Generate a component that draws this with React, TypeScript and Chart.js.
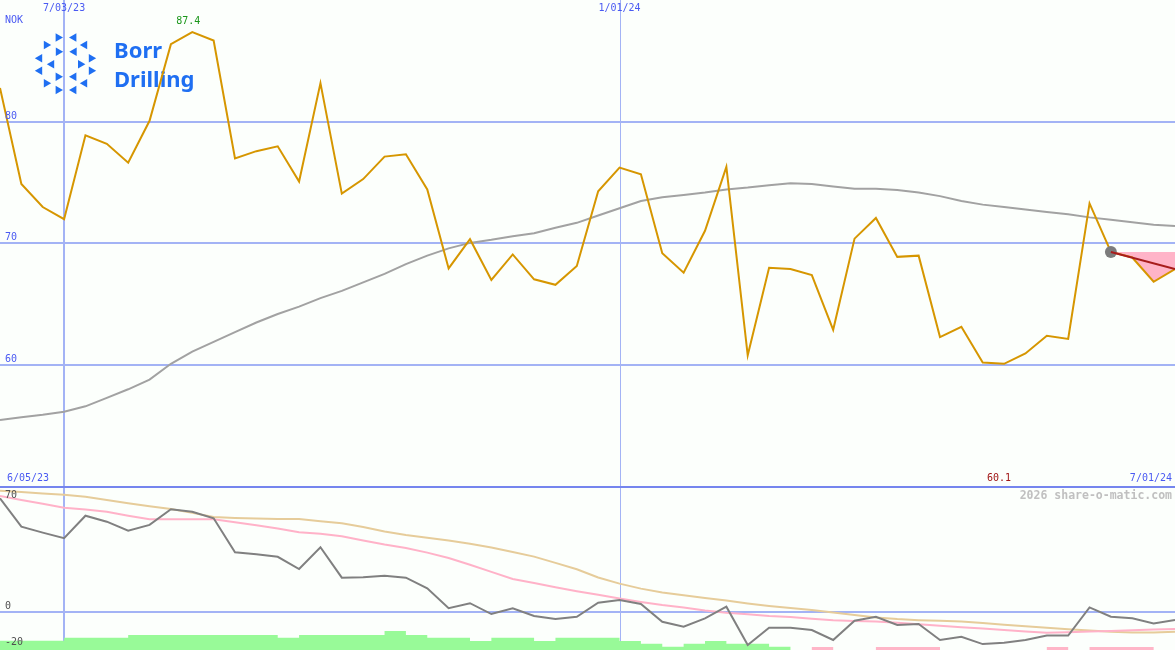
import React, { useEffect, useRef } from 'react';
import { Chart, registerables } from 'chart.js';

Chart.register(...registerables);

// ---------- data (weekly, index 0 = first week shown) ----------
const currency = 'NOK';
const firstDateLabel = '6/05/23';
const lastDateLabel = '7/01/24';
const dateMarks = [
  { index: 3, label: '7/03/23' },
  { index: 29, label: '1/01/24' },
];
const upperTicks = [80, 70, 60];
const lowerTicks = [70, 0, -20];

const price = [
  82.8, 74.9, 73.0, 72.0, 78.9, 78.2, 76.65, 80.1, 86.4, 87.4,
  86.7, 77.0, 77.6, 78.0, 75.1, 83.2, 74.1, 75.3, 77.15, 77.35,
  74.45, 67.95, 70.35, 67.0, 69.1, 67.05, 66.6, 68.15, 74.3, 76.25,
  75.7, 69.2, 67.6, 71.05, 76.3, 60.8, 68.0, 67.9, 67.4, 62.9,
  70.4, 72.1, 68.9, 69.0, 62.3, 63.15, 60.2, 60.1, 60.95, 62.4,
  62.15, 73.3, 69.3, 68.85, 66.85, 67.9,
];

const priceAverage = [
  55.47, 55.7, 55.9, 56.15, 56.6, 57.3, 58.0, 58.8, 60.1, 61.1,
  61.9, 62.7, 63.5, 64.2, 64.8, 65.5, 66.1, 66.8, 67.5, 68.3,
  69.0, 69.6, 70.05, 70.3, 70.6, 70.85, 71.3, 71.7, 72.3, 72.9,
  73.5, 73.8, 74.0, 74.2, 74.45, 74.6, 74.8, 74.95, 74.9, 74.7,
  74.5, 74.5, 74.4, 74.2, 73.9, 73.5, 73.2, 73.0, 72.8, 72.6,
  72.4, 72.15, 71.95, 71.75, 71.55, 71.45,
];

const oscillator = [
  62.9, 47.1, 43.8, 40.7, 53.2, 49.9, 44.9, 48.1, 56.8, 55.4,
  51.8, 32.9, 31.8, 30.4, 23.6, 35.7, 18.8, 19.0, 19.9, 18.8,
  12.9, 1.8, 4.6, -1.4, 1.8, -2.5, -4.2, -2.9, 4.9, 6.4,
  4.2, -5.7, -8.4, -3.8, 2.7, -18.6, -9.0, -9.0, -10.3, -15.8,
  -5.1, -2.9, -7.5, -6.9, -15.8, -14.0, -18.1, -17.3, -15.8, -13.4,
  -13.4, 2.3, -2.9, -3.8, -6.6, -4.7,
];

const oscSignal = [
  64.2, 62.0, 59.9, 57.7, 56.6, 55.4, 53.2, 51.2, 51.2, 51.2,
  51.2, 49.6, 47.9, 46.1, 44.0, 43.2, 41.8, 39.4, 37.2, 35.3,
  32.7, 29.7, 26.0, 22.0, 18.1, 15.8, 13.5, 11.3, 9.3, 7.2,
  5.3, 3.6, 2.2, 0.5, -0.7, -1.5, -2.5, -3.1, -4.0, -4.8,
  -5.3, -5.6, -6.2, -7.1, -7.9, -8.8, -9.5, -10.3, -11.1, -11.8,
  -11.5, -11.1, -10.8, -10.4, -10.0, -9.7,
];

const oscSlow = [
  67.1, 66.4, 65.6, 64.9, 63.8, 62.0, 60.2, 58.5, 57.0, 54.8,
  52.5, 52.0, 51.6, 51.4, 51.4, 50.2, 49.0, 47.0, 44.5, 42.5,
  41.0, 39.4, 37.6, 35.5, 33.0, 30.5, 27.0, 23.5, 18.9, 15.5,
  12.7, 10.5, 9.0, 7.5, 6.1, 4.5, 3.1, 1.9, 0.8, -0.5,
  -2.0, -3.3, -4.2, -4.8, -5.2, -5.5, -6.4, -7.3, -8.2, -9.0,
  -9.8, -10.5, -11.2, -11.6, -11.6, -11.2,
];

// one value per week interval (between week k and k+1)
const histogram = [
  5.2, 5.2, 5.2, 6.8, 6.8, 6.8, 8.3, 8.3, 8.3, 8.3,
  8.3, 8.3, 8.3, 6.8, 8.3, 8.3, 8.3, 8.3, 10.6, 8.3,
  6.8, 6.8, 5.0, 6.8, 6.8, 5.0, 6.8, 6.8, 6.8, 5.0,
  3.5, 1.8, 3.5, 5.0, 3.5, 3.5, 1.8, 0, -1.7, 0,
  0, -1.7, -1.7, -1.7, 0, 0, 0, 0, 0, -1.7,
  0, -1.7, -1.7, -1.7, 0,
];

const markerIndex = 52;
const trendEndValue = 67.9;

// ---------- layout constants ----------
const W = 1175;
const H = 650;
const UPPER_PX = 12.15; // px per NOK
const UPPER_MAX = 80 + 122 / UPPER_PX;
const UPPER_MIN = UPPER_MAX - H / UPPER_PX;
const PANEL_SPLIT = 50; // upper-scale value at the divider
const LOWER_PX = 1.8;
const LOWER_MAX = 611.5 / LOWER_PX;
const LOWER_MIN = LOWER_MAX - H / LOWER_PX;

const COLORS = {
  bg: '#fcfffc',
  grid: '#a3b3f5',
  divider: '#7585ee',
  axisText: '#4a5af2',
  lowerText: '#505050',
  price: '#d69600',
  average: '#a2a2a2',
  osc: '#808080',
  signal: '#ffb2c8',
  slow: '#e6cc9a',
  histUp: '#98fa98',
  histDown: '#ffb6c8',
  lossFill: '#ffb4c8',
  trend: '#a81c1c',
  marker: '#7c7c7c',
  watermark: '#c0c0c0',
  maxText: '#1a961a',
  minText: '#a01616',
  logo: '#1f6ff2',
};

const logoTriangles: [number, number, number][] = [
  [59.3, 37.5, 1], [72.7, 37.5, -1], [47.5, 45, 1], [83.5, 45, -1],
  [59.5, 51.7, 1], [73, 51.7, -1], [38.5, 58.3, -1], [92.5, 58.3, 1],
  [50.5, 64.3, -1], [81.7, 64.3, 1], [38.5, 70.7, -1], [92.5, 70.7, 1],
  [59.3, 76.7, 1], [72.7, 76.7, -1], [47.5, 83.3, 1], [83.5, 83.3, -1],
  [59.3, 90, 1], [72.7, 90, -1],
];

const toPoints = (arr: number[]) => arr.map((v, i) => ({ x: i, y: v }));

export default function App() {
  const ref = useRef<HTMLCanvasElement>(null);

  useEffect(() => {
    document.body.style.margin = '0';
    const canvas = ref.current;
    if (!canvas) return;

    const last = price.length - 1;
    const histPoints = (up: boolean) => {
      const pts = histogram.map((v, k) => ({
        x: k,
        y: LOWER_MIN + ((up ? v > 0 : v < 0) ? Math.abs(v) : 0),
      }));
      pts.push({ x: last, y: pts[pts.length - 1].y });
      return pts;
    };
    const lossPoints = price
      .map((v, i) => ({ x: i, y: v }))
      .filter((p) => p.x >= markerIndex);

    const maxVal = Math.max(...price);
    const minVal = Math.min(...price);
    const maxIdx = price.indexOf(maxVal);
    const minIdx = price.indexOf(minVal);

    const decor = {
      id: 'decor',
      beforeDatasetsDraw(chart: any) {
        const ctx = chart.ctx as CanvasRenderingContext2D;
        const x = chart.scales.x;
        const y = chart.scales.y;
        const y2 = chart.scales.y2;
        const split = y.getPixelForValue(PANEL_SPLIT);
        ctx.save();
        ctx.fillStyle = COLORS.bg;
        ctx.fillRect(0, 0, chart.width, chart.height);

        ctx.strokeStyle = COLORS.grid;
        ctx.lineWidth = 2;
        upperTicks.forEach((t) => {
          const py = Math.round(y.getPixelForValue(t));
          ctx.beginPath();
          ctx.moveTo(0, py);
          ctx.lineTo(chart.width, py);
          ctx.stroke();
        });
        const zy = Math.round(y2.getPixelForValue(0));
        ctx.beginPath();
        ctx.moveTo(0, zy);
        ctx.lineTo(chart.width, zy);
        ctx.stroke();
        dateMarks.forEach((m, j) => {
          const px = Math.round(x.getPixelForValue(m.index));
          ctx.lineWidth = j === 0 ? 2 : 1;
          const off = j === 0 ? 0 : 0.5;
          ctx.beginPath();
          ctx.moveTo(px + off, 0);
          ctx.lineTo(px + off, chart.height);
          ctx.stroke();
        });
        ctx.strokeStyle = COLORS.divider;
        ctx.lineWidth = 2;
        ctx.beginPath();
        ctx.moveTo(0, Math.round(split));
        ctx.lineTo(chart.width, Math.round(split));
        ctx.stroke();

        // logo
        ctx.fillStyle = COLORS.logo;
        logoTriangles.forEach(([cx, cy, d]) => {
          ctx.beginPath();
          ctx.moveTo(cx - 3.7 * d, cy - 4.2);
          ctx.lineTo(cx - 3.7 * d, cy + 4.2);
          ctx.lineTo(cx + 3.7 * d, cy);
          ctx.closePath();
          ctx.fill();
        });
        ctx.font = 'bold 22px "Noto Sans", "DejaVu Sans", sans-serif';
        ctx.textAlign = 'left';
        ctx.textBaseline = 'alphabetic';
        ctx.fillText('Borr', 114, 58);
        ctx.fillText('Drilling', 114, 87);
        ctx.restore();
      },
      afterDatasetsDraw(chart: any) {
        const ctx = chart.ctx as CanvasRenderingContext2D;
        const x = chart.scales.x;
        const y = chart.scales.y;
        const y2 = chart.scales.y2;
        const split = y.getPixelForValue(PANEL_SPLIT);
        ctx.save();
        ctx.font = '10px "DejaVu Sans Mono", monospace';
        ctx.textBaseline = 'middle';
        ctx.fillStyle = COLORS.axisText;
        ctx.textAlign = 'left';
        ctx.fillText(currency, 5, 20);
        upperTicks.forEach((t) => {
          ctx.fillText(String(t), 5, y.getPixelForValue(t) - 6);
        });
        ctx.textAlign = 'center';
        dateMarks.forEach((m) => {
          ctx.fillText(m.label, x.getPixelForValue(m.index), 8.5);
        });
        ctx.textAlign = 'left';
        ctx.fillText(firstDateLabel, 7, split - 8);
        ctx.textAlign = 'right';
        ctx.fillText(lastDateLabel, chart.width - 3, split - 8);

        ctx.textAlign = 'left';
        ctx.fillStyle = COLORS.lowerText;
        lowerTicks.forEach((t) => {
          const py = Math.min(
            Math.max(y2.getPixelForValue(t) - 5.5, split + 9),
            chart.height - 8
          );
          ctx.fillText(String(t), 5, py);
        });

        ctx.textAlign = 'center';
        ctx.fillStyle = COLORS.maxText;
        ctx.fillText(maxVal.toFixed(1), x.getPixelForValue(maxIdx) - 4, 21);
        ctx.fillStyle = COLORS.minText;
        ctx.fillText(minVal.toFixed(1), x.getPixelForValue(minIdx) - 5, split - 8);

        ctx.font = 'bold 11.5px "DejaVu Sans Mono", monospace';
        ctx.fillStyle = COLORS.watermark;
        ctx.textAlign = 'right';
        ctx.fillText('2026 share-o-matic.com', chart.width - 3, split + 10);
        ctx.restore();
      },
    };

    const line = (data: any[], color: string, yAxisID: string, width = 2, extra: any = {}) => ({
      data,
      borderColor: color,
      backgroundColor: color,
      borderWidth: width,
      pointRadius: 0,
      tension: 0,
      fill: false,
      yAxisID,
      ...extra,
    });

    const chart = new Chart(canvas, {
      type: 'line',
      data: {
        datasets: [
          line(
            [
              { x: markerIndex, y: price[markerIndex] },
              { x: last, y: trendEndValue },
            ],
            COLORS.trend,
            'y',
            2
          ),
          line([{ x: markerIndex, y: price[markerIndex] }], COLORS.marker, 'y', 0, {
            showLine: false,
            pointRadius: 6,
            pointBorderWidth: 0,
            pointBackgroundColor: COLORS.marker,
          }),
          line(toPoints(price), COLORS.price, 'y', 2),
          line(lossPoints, 'rgba(0,0,0,0)', 'y', 0, {
            fill: { value: price[markerIndex] },
            backgroundColor: COLORS.lossFill,
          }),
          line(toPoints(priceAverage), COLORS.average, 'y', 2),
          line(toPoints(oscillator), COLORS.osc, 'y2', 2),
          line(toPoints(oscSignal), COLORS.signal, 'y2', 2),
          line(toPoints(oscSlow), COLORS.slow, 'y2', 2),
          line(histPoints(true), 'rgba(0,0,0,0)', 'y2', 0, {
            stepped: 'before',
            fill: 'start',
            backgroundColor: COLORS.histUp,
          }),
          line(histPoints(false), 'rgba(0,0,0,0)', 'y2', 0, {
            stepped: 'before',
            fill: 'start',
            backgroundColor: COLORS.histDown,
          }),
        ],
      },
      options: {
        responsive: false,
        animation: false,
        events: [],
        layout: { padding: 0, autoPadding: false },
        plugins: {
          legend: { display: false },
          tooltip: { enabled: false },
          title: { display: false },
        },
        scales: {
          x: { type: 'linear', min: 0, max: price.length - 1, display: false, offset: false },
          y: { type: 'linear', min: UPPER_MIN, max: UPPER_MAX, display: false },
          y2: { type: 'linear', min: LOWER_MIN, max: LOWER_MAX, display: false },
        },
      },
      plugins: [decor],
    } as any);

    return () => chart.destroy();
  }, []);

  return (
    <div style={{ position: 'fixed', left: 0, top: 0, width: W, height: H, background: COLORS.bg }}>
      <canvas ref={ref} width={W} height={H} style={{ display: 'block', width: W, height: H }} />
    </div>
  );
}
